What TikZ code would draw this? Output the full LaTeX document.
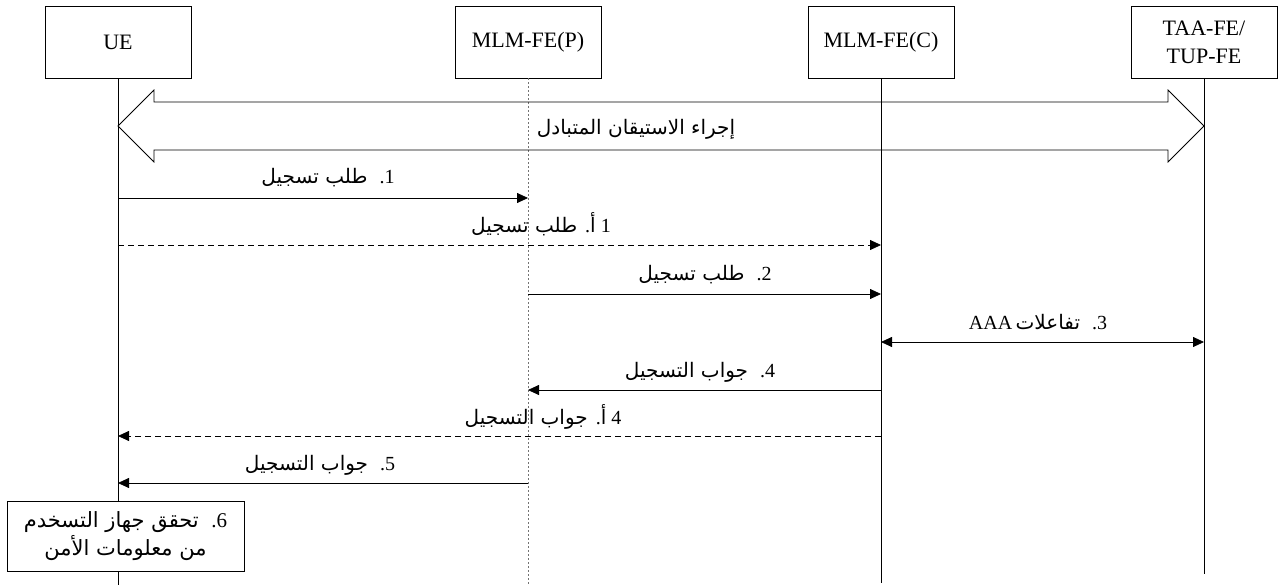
\documentclass[tikz,border=0pt]{standalone}
\usepackage{fontspec}
\setmainfont{Liberation Serif}
\newfontfamily\arfont[Script=Arabic]{DejaVu Sans}
\TeXXeTstate=1
\usetikzlibrary{arrows.meta,calc}
\newcommand{\ar}[1]{{\arfont\beginR #1\endR}}
\begin{document}
\begin{tikzpicture}[x=1pt,y=-1pt,
  entity/.style={draw, line width=0.8pt, minimum width=146pt, minimum height=72pt, align=center, inner sep=0pt, font=\fontsize{22}{28}\selectfont},
  life/.style={line width=0.8pt},
  plife/.style={line width=0.8pt, black!55, dash pattern=on 2pt off 2pt},
  msg/.style={line width=0.8pt, -{Triangle[length=11pt,width=10pt]}},
  dmsg/.style={msg, dash pattern=on 6pt off 4pt},
  bimsg/.style={line width=0.8pt, {Triangle[length=11pt,width=10pt]}-{Triangle[length=11pt,width=10pt]}},
  lbl/.style={anchor=base, inner sep=0pt, font=\fontsize{20}{24}\selectfont}]
\useasboundingbox (0,0) rectangle (1282,585);

% entities
\node[entity] (ue)  at (118,42)  {UE};
\node[entity] (p)   at (528,42)  {MLM-FE(P)};
\node[entity] (c)   at (881,42)  {MLM-FE(C)};
\node[entity] (taa) at (1204,42) {TAA-FE/\\TUP-FE};

% lifelines
\coordinate (bot) at (0,585);
\coordinate (botc) at (0,583);
\coordinate (bott) at (0,574);
\draw[life]  (ue.south) -- (ue.south |- bot);
\draw[plife] (p.south)  -- (p.south |- bot);
\draw[life]  (c.south)  -- (c.south |- botc);
\draw[life]  (taa.south) -- (taa.south |- bott);

% mutual authentication double arrow
\coordinate (ma) at (0,126);
\draw[line width=0.8pt] (ue|-ma) -- ++(36,-36) -- ++(0,12) -- ($(taa|-ma)+(-36,-24)$) -- ++(0,-12) -- (taa|-ma)
  -- ++(-36,36) -- ++(0,-12) -- ($(ue|-ma)+(36,24)$) -- ++(0,12) -- cycle;
\node[lbl] (mal) at (636,135) {\ar{إجراء الاستيقان المتبادل}};

% rows
\coordinate (r1) at (0,198);
\coordinate (r1a) at (0,245);
\coordinate (r2) at (0,294);
\coordinate (r3) at (0,342);
\coordinate (r4) at (0,390);
\coordinate (r4a) at (0,436);
\coordinate (r5) at (0,483);

\draw[msg]  (ue|-r1)  -- (p|-r1);
\draw[dmsg] (ue|-r1a) -- (c|-r1a);
\draw[msg]  (p|-r2)   -- (c|-r2);
\draw[bimsg] (c|-r3)  -- (taa|-r3);
\draw[msg]  (c|-r4)   -- (p|-r4);
\draw[dmsg] (c|-r4a)  -- (ue|-r4a);
\draw[msg]  (p|-r5)   -- (ue|-r5);

% labels
\node[lbl] (l1)  at (328,184) {\ar{طلب تسجيل}\hspace{0.6em}.1};
\node[lbl] (l1a) at (541,233) {\ar{طلب تسجيل}\hspace{0.4em}.{\arfont أ} 1};
\node[lbl] (l2)  at (705,281) {\ar{طلب تسجيل}\hspace{0.6em}.2};
\node[lbl] (l3)  at (1038,329) {AAA\,\ar{تفاعلات}\hspace{0.6em}.3};
\node[lbl] (l4)  at (700,377) {\ar{جواب التسجيل}\hspace{0.6em}.4};
\node[lbl] (l4a) at (543,424) {\ar{جواب التسجيل}\hspace{0.4em}.{\arfont أ} 4};
\node[lbl] (l5)  at (320,470) {\ar{جواب التسجيل}\hspace{0.6em}.5};

% check box
\node[draw, fill=white, line width=0.8pt, minimum width=237pt, minimum height=70pt, inner sep=0pt, align=center, font=\fontsize{21}{28}\selectfont] (chk) at (125.5,536)
  {\ar{تحقق جهاز التسخدم}\hspace{0.6em}.6\\ \ar{من معلومات الأمن}};
\end{tikzpicture}
\end{document}
